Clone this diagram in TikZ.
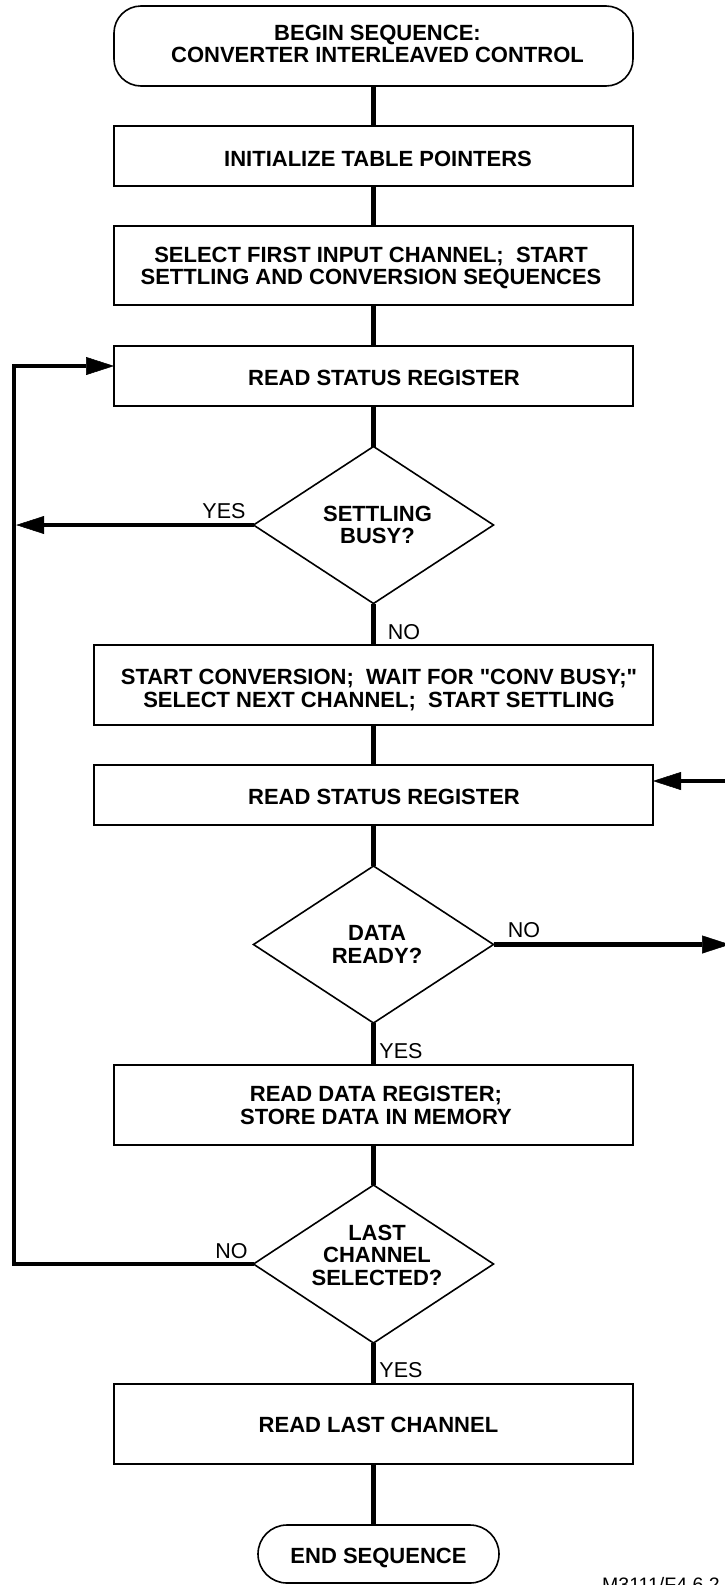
\documentclass[tikz,border=0pt]{standalone}
\usepackage{fontspec}
\setmainfont{Liberation Sans}[Ligatures=TeXOff]
\usetikzlibrary{shapes.geometric,arrows.meta,calc}
\frenchspacing
\begin{document}
\begin{tikzpicture}[x=1pt,y=-1pt,line join=miter,
  shapeline/.style={draw,line width=1.6pt,inner sep=0pt,outer sep=0pt},
  procbox/.style={shapeline,rectangle,minimum width=519pt},
  widebox/.style={shapeline,rectangle,minimum width=559pt},
  termbox/.style={shapeline,rectangle,rounded corners=#1},
  decision/.style={shapeline,diamond,minimum width=240pt,minimum height=157pt},
  flow/.style={line width=4.3pt},
  arrowflow/.style={flow,-{Triangle[length=28pt,width=18pt,line width=0.5pt]}},
  boldtext/.style={font=\bfseries\fontsize{22pt}{22.5pt}\selectfont,align=center,
    inner sep=0pt,text height=15.75pt+#1,text depth=0pt},
  boldtext/.default=0pt,
  answer/.style={font=\fontsize{21.5pt}{22pt}\selectfont,inner sep=0pt,
    text height=15.4pt,text depth=0pt},
]
% page area
\fill[white] (0,0) rectangle (724,1585);
\useasboundingbox (0,0) rectangle (724,1585);

% shapes
\node[termbox=27pt,minimum width=519pt,minimum height=80pt] (t1) at (373.5,46) {};
\node[procbox,minimum height=60pt] (b1) at (373.5,156) {};
\node[procbox,minimum height=79pt] (b2) at (373.5,265.5) {};
\node[procbox,minimum height=60pt] (b3) at (373.5,376) {};
\node[decision] (d1) at (373.5,525) {};
\node[widebox,minimum height=80pt] (b4) at (373.5,685) {};
\node[widebox,minimum height=60pt] (b5) at (373.5,795) {};
\node[decision] (d2) at (373.5,944.5) {};
\node[procbox,minimum height=80pt] (b6) at (373.5,1105) {};
\node[decision,minimum height=158pt] (d3) at (373.5,1264) {};
\node[procbox,minimum height=80pt] (b7) at (373.5,1424) {};
\node[termbox=29pt,minimum width=241pt,minimum height=58pt] (t2) at (378.5,1554) {};

% texts
\node[boldtext=22.5pt] (t1x) at (377.5,43.6) {BEGIN SEQUENCE:\\CONVERTER INTERLEAVED CONTROL};
\node[boldtext] (b1x) at (378,158.3) {INITIALIZE TABLE POINTERS};
\node[boldtext=22.5pt] (b2x) at (371,265.8) {SELECT FIRST INPUT CHANNEL;~~START\\SETTLING AND CONVERSION SEQUENCES};
\node[boldtext] (b3x) at (384,378) {READ STATUS REGISTER};
\node[boldtext=22.5pt] (d1x) at (377.5,524.5) {SETTLING\\BUSY?};
\node[boldtext=22.5pt] (b4x) at (379,688.3) {START CONVERSION;~~WAIT FOR "CONV BUSY;"\\SELECT NEXT CHANNEL;~~START SETTLING};
\node[boldtext] (b5x) at (384,796.7) {READ STATUS REGISTER};
\node[boldtext=22.5pt] (d2x) at (377,944.2) {DATA\\READY?};
\node[boldtext=22.5pt] (b6x) at (376,1105.2) {READ DATA REGISTER;\\STORE DATA IN MEMORY};
\node[boldtext=45pt] (d3x) at (377,1254.7) {LAST\\CHANNEL\\SELECTED?};
\node[boldtext] (b7x) at (378.5,1425) {READ LAST CHANNEL};
\node[boldtext] (t2x) at (378.5,1555.5) {END SEQUENCE};

% main flow
\draw[flow] (t1.south) -- (b1.north);
\draw[flow] (b1.south) -- (b2.north);
\draw[flow] (b2.south) -- (b3.north);
\draw[flow] (b3.south) -- (d1.north);
\draw[flow] (d1.south) -- (b4.north);
\draw[flow] (b4.south) -- (b5.north);
\draw[flow] (b5.south) -- (d2.north);
\draw[flow] (d2.south) -- (b6.north);
\draw[flow] (b6.south) -- (d3.north);
\draw[flow] (d3.south) -- (b7.north);
\draw[flow] (b7.south) -- (b7.south |- t2.north);

% branch lines
\coordinate (loopx) at (14,0);
\coordinate (yestip) at (16.2,0);
\coordinate (b3in) at ([yshift=10pt]b3.west);
\coordinate (b5in) at ([yshift=14pt]b5.east);
\coordinate (rtip) at (730,944.5);
\coordinate (rin) at (760,0);
\draw[arrowflow] (d3.west) -- (d3.west -| loopx) -- (loopx |- b3in) -- (b3in);
\draw[arrowflow] (d1.west) -- (d1.west -| yestip);
\draw[arrowflow] (d2.east) -- (rtip);
\draw[arrowflow] (rin |- b5in) -- (b5in);

% branch answers
\node[answer] (d1yes) at (224,511) {YES};
\node[answer] (d1no) at (404,631.5) {NO};
\node[answer] (d2no) at (524,930) {NO};
\node[answer] (d2yes) at (401,1050.5) {YES};
\node[answer] (d3no) at (231.5,1250.5) {NO};
\node[answer] (d3yes) at (401,1370) {YES};

% figure number
\node[font=\fontsize{19.5pt}{20pt}\selectfont,anchor=base west,inner sep=0pt] (fignum) at (602,1591) {M3111/F4.6.2};
\end{tikzpicture}
\end{document}
